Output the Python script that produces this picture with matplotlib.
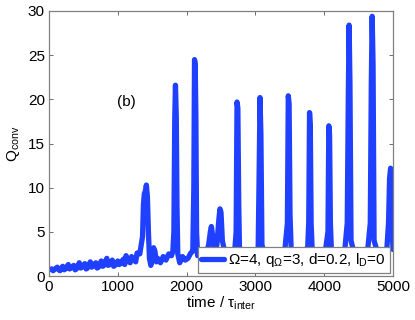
import matplotlib
matplotlib.use("Agg")
import matplotlib.pyplot as plt

plt.rcParams['font.family'] = ['Liberation Sans', 'DejaVu Sans']
plt.rcParams['mathtext.fontset'] = 'custom'
plt.rcParams['mathtext.rm'] = 'Liberation Sans'
plt.rcParams['mathtext.it'] = 'Liberation Sans:italic'

time = [0, 40, 60, 80, 120, 140, 160, 200, 220, 240, 280, 300, 320, 360, 380, 400,
        440, 460, 480, 520, 540, 560,
        600, 620, 640, 680, 700, 720, 760, 780, 800, 840, 860, 880, 920, 940, 960,
        1000, 1020, 1040, 1080, 1100, 1120,
        1160, 1180, 1200, 1240, 1260, 1280, 1320, 1340, 1360, 1372, 1385, 1400, 1415, 1430,
        1445, 1460, 1480, 1500, 1520, 1540, 1560, 1580, 1620, 1660, 1700, 1740,
        1780, 1800, 1815, 1828, 1838, 1850, 1860, 1872, 1900, 1940, 1980, 2020,
        2060, 2090, 2105, 2115, 2125, 2135, 2145, 2160, 2200, 2240, 2280, 2320,
        2345, 2360, 2380, 2400, 2440, 2470, 2485, 2500, 2520, 2560, 2600, 2650,
        2700, 2720, 2733, 2745, 2758, 2770, 2800, 2850, 2900, 2950, 3000, 3040,
        3055, 3067, 3080, 3095, 3130, 3180, 3230, 3280, 3330, 3380, 3430, 3465,
        3478, 3490, 3503, 3520, 3560, 3610, 3660, 3710, 3760, 3775, 3787, 3798,
        3810, 3825, 3870, 3920, 3970, 4020, 4055, 4067, 4078, 4090, 4105, 4150,
        4200, 4250, 4300, 4335, 4350, 4362, 4374, 4390, 4430, 4480, 4530, 4580,
        4630, 4670, 4685, 4697, 4710, 4725, 4770, 4820, 4870, 4910, 4935, 4950,
        4965, 4980, 5000]
q_conv = [0.7, 0.8, 0.6, 0.75, 1.0, 0.7, 0.6, 1.1, 0.7, 0.8, 1.3, 0.8, 0.9, 1.2, 0.7, 0.8,
          1.5, 0.9, 1.0, 1.4, 0.8, 0.9,
          1.6, 1.0, 1.1, 1.5, 0.9, 1.0, 1.7, 1.1, 1.2, 2.0, 1.2, 1.3, 1.8, 1.1, 1.2,
          1.7, 1.3, 1.4, 1.9, 1.3, 2.3,
          1.6, 1.5, 2.2, 1.8, 1.6, 2.6, 2.5, 3.5, 4.5, 8.0, 9.3, 9.6, 10.3, 9.0,
          5.0, 2.0, 1.2, 2.0, 3.2, 2.8, 1.6, 2.0, 1.5, 2.2, 1.8, 2.5,
          2.3, 2.8, 5.0, 18.0, 21.6, 18.0, 8.0, 2.5, 1.5, 2.2, 1.8, 2.0,
          2.6, 2.8, 10.0, 24.5, 24.0, 18.0, 5.0, 2.3, 2.8, 3.0, 2.5, 3.5,
          5.0, 5.6, 4.5, 3.0, 3.5, 6.5, 7.6, 7.2, 4.0, 2.5, 2.8, 2.4,
          2.9, 5.0, 19.7, 19.0, 8.0, 2.6, 2.4, 2.9, 2.5, 3.0, 2.6, 3.0,
          12.0, 20.2, 16.0, 3.5, 2.7, 3.0, 2.5, 3.0, 2.6, 2.9, 3.1, 6.0,
          20.4, 19.5, 7.0, 3.0, 2.6, 3.0, 2.7, 2.9, 3.2, 6.0, 18.5, 17.0,
          6.0, 3.0, 2.6, 3.0, 2.7, 3.0, 5.0, 17.0, 16.0, 6.0, 2.8, 2.6,
          3.0, 2.7, 3.0, 6.0, 20.0, 28.4, 22.0, 4.0, 2.7, 3.0, 2.6, 3.0,
          2.8, 6.0, 22.0, 29.4, 24.0, 4.0, 2.8, 3.0, 2.7, 3.0, 6.0, 11.0,
          12.2, 7.0, 3.0]

x_ticks = [0, 1000, 2000, 3000, 4000, 5000]
y_ticks = [0, 5, 10, 15, 20, 25, 30]
legend_label = 'Ω=4, q$_\\mathregular{Ω}$=3, d=0.2, l$_\\mathregular{D}$=0'

fig = plt.figure(figsize=(4.15, 3.2), dpi=100)
ax = fig.add_axes([49/415, 1 - 276/320, 344/415, 265/320])
ax.plot(time, q_conv, color='#2040ff', lw=3.8, solid_joinstyle='round',
        solid_capstyle='round', label=legend_label)
ax.set_xlim(0, 5000)
ax.set_ylim(0, 30)
ax.set_xticks(x_ticks)
ax.set_yticks(y_ticks)
ax.tick_params(direction='in', top=True, right=True, labelsize=11,
               length=3, width=0.6, color='#555555', pad=3)
for s in ax.spines.values():
    s.set_color('#808080')
    s.set_linewidth(0.9)
ax.text(1130, 19.7, '(b)', ha='center', va='center', fontsize=11)
ax.set_xlabel('time / τ$_\\mathregular{inter}$', fontsize=11, labelpad=0)
ax.set_ylabel('Q$_\\mathregular{conv}$', fontsize=11, labelpad=4)
leg = ax.legend(loc='lower right', bbox_to_anchor=(0.99, 0.012), borderaxespad=0,
                fontsize=11, handlelength=1.5, handletextpad=0.25, borderpad=0.25,
                fancybox=False, framealpha=1, edgecolor='#808080')
leg.get_frame().set_linewidth(0.9)
fig.savefig('out.png', dpi=100)
